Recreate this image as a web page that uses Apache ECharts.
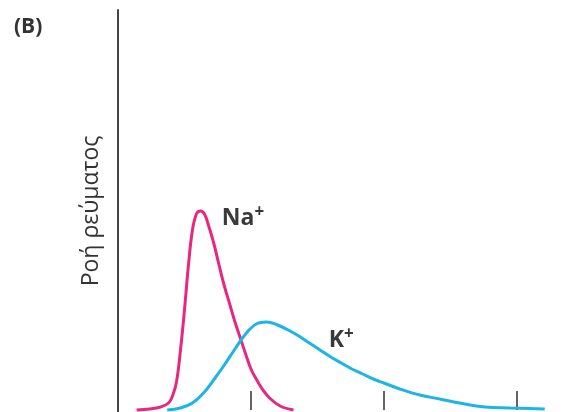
<!DOCTYPE html>
<html>
<head>
<meta charset="utf-8">
<script src="https://cdn.jsdelivr.net/npm/echarts@6/dist/echarts.min.js"></script>
<style>
  html, body { margin: 0; padding: 0; background: #fff; }
  #chart { width: 576px; height: 412px; }
</style>
</head>
<body>
<div id="chart"></div>
<script>
// time (arbitrary units, ticks at 1, 2, 3) and current (arbitrary units)
const naTime = [0.14, 0.24, 0.32, 0.38, 0.41, 0.44, 0.47, 0.50, 0.53, 0.56, 0.59, 0.62, 0.65, 0.68, 0.72, 0.76, 0.80, 0.84, 0.88, 0.92, 0.96, 1.00, 1.04, 1.08, 1.14, 1.22, 1.32];
const naCurrent = [0, 1, 3, 7, 14, 28, 60, 100, 145, 180, 196, 199, 196, 185, 167, 145, 124, 106, 88, 72, 56, 41, 31, 22, 12, 4, 0];

const kTime = [0.37, 0.47, 0.56, 0.65, 0.73, 0.80, 0.88, 0.96, 1.04, 1.12, 1.20, 1.28, 1.36, 1.44, 1.52, 1.60, 1.68, 1.76, 1.84, 1.92, 2.00, 2.12, 2.27, 2.42, 2.57, 2.76, 2.95, 3.21];
const kCurrent = [0, 2, 7, 18, 32, 45, 61, 76, 86, 88, 85, 80, 74, 67, 60, 53, 47, 41, 36, 31, 27, 21, 15, 11, 7, 3, 2, 1];

const tickValues = [1, 2, 3];
const yTitle = 'Ροή ρεύματος';
const panelTitle = '(B)';

// label anchors [time, current]
const naLabelAt = [0.94, 192];
const kLabelAt = [1.68, 70];

const chart = echarts.init(document.getElementById('chart'));

const zip = (xs, ys) => xs.map((x, i) => [x, ys[i]]);

const ionLabel = (name, at) => ({
  silent: true,
  symbol: 'circle',
  symbolSize: 0,
  data: [{ coord: at }],
  label: {
    show: true,
    position: 'inside',
    formatter: '{b|' + name + '}{s|+}',
    rich: {
      b: { fontFamily: 'Open Sans', fontWeight: 'bold', fontSize: 23, color: '#3a3a3a' },
      s: { fontFamily: 'Open Sans', fontWeight: 'bold', fontSize: 17, color: '#3a3a3a', verticalAlign: 'top', padding: [0, 0, 12, 0] }
    }
  }
});

const option = {
  animation: false,
  title: {
    text: panelTitle,
    left: 9,
    top: 12,
    textStyle: { fontFamily: 'Open Sans', fontWeight: 'bold', fontSize: 21, color: '#333' }
  },
  grid: { left: 118, right: 6, top: 10, bottom: 0 },
  xAxis: {
    type: 'value',
    min: 0,
    max: 3.4,
    axisLine: { show: false },
    axisTick: {
      show: true,
      inside: true,
      length: 19,
      customValues: tickValues,
      lineStyle: { color: '#333', width: 1.5 }
    },
    axisLabel: { show: false },
    splitLine: { show: false }
  },
  yAxis: {
    type: 'value',
    min: -2,
    max: 400,
    name: yTitle,
    nameLocation: 'middle',
    nameRotate: 90,
    nameGap: 15,
    nameTextStyle: { fontFamily: 'Open Sans', fontSize: 23, color: '#333' },
    axisLine: { show: true, lineStyle: { color: '#444', width: 2 } },
    axisTick: { show: false },
    axisLabel: { show: false },
    splitLine: { show: false }
  },
  series: [
    {
      name: 'Na+',
      type: 'line',
      smooth: 0.4,
      showSymbol: false,
      data: zip(naTime, naCurrent),
      lineStyle: { color: '#e8277f', width: 3 },
      itemStyle: { color: '#e8277f' },
      markPoint: ionLabel('Na', naLabelAt)
    },
    {
      name: 'K+',
      type: 'line',
      smooth: 0.4,
      showSymbol: false,
      data: zip(kTime, kCurrent),
      lineStyle: { color: '#1eb4e8', width: 3 },
      itemStyle: { color: '#1eb4e8' },
      markPoint: ionLabel('K', kLabelAt)
    }
  ]
};

chart.setOption(option);
</script>
</body>
</html>
